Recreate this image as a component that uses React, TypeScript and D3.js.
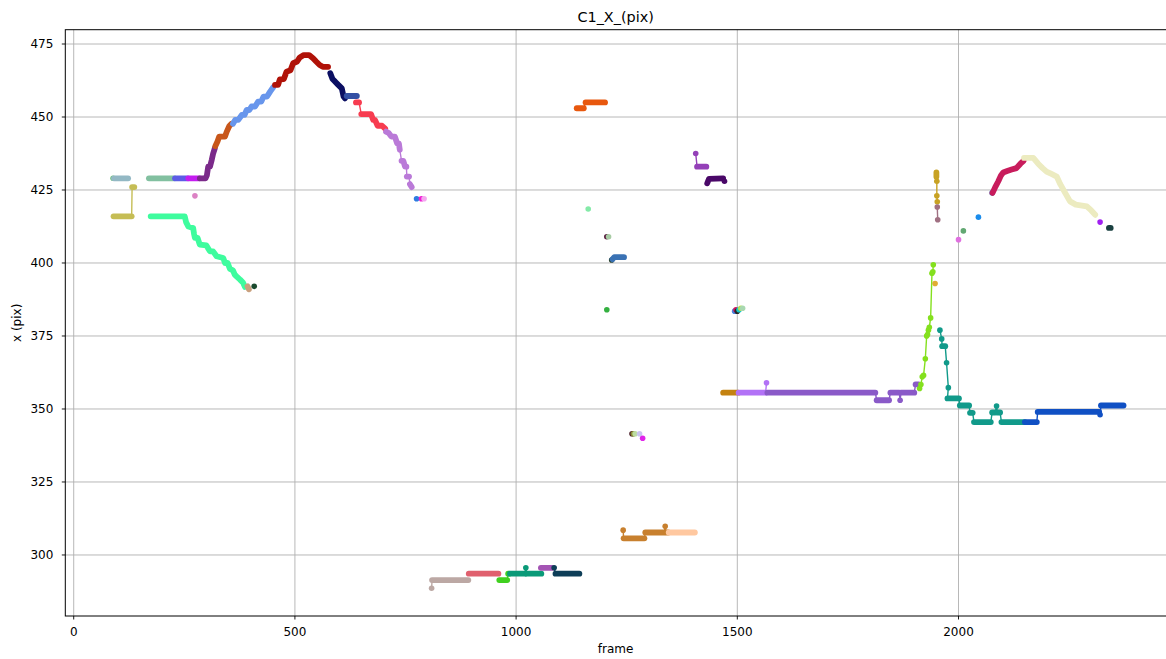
import * as d3 from 'd3';

type Pt = [number, number];
type Run = Pt[];

// axis ticks
const xTicks = [0, 500, 1000, 1500, 2000];
const yTicks = [300, 325, 350, 375, 400, 425, 450, 475];

// tracks: list of dense runs of [frame, x(pix)]; one-point runs are lone markers
const startDot: Run[] = [[[89, 429]]];
const greyBlue: Run[] = [[[91, 429], [123, 429]]];
const olive: Run[] = [[[90, 416], [131, 416]], [[132, 426], [137, 426]]];
const seaGreen: Run[] = [[[170, 429], [228, 429]]];
const royal: Run[] = [[[229, 429], [258, 429]]];
const violet: Run[] = [[[259, 429], [284, 429]]];
const plum: Run[] = [[[285, 429], [298, 429], [301, 430], [304, 433], [308, 433], [312, 435.3], [315, 437.4], [319, 439.3]]];
const rust: Run[] = [[[320, 440], [325, 441.6], [329, 443.3], [342, 443.3], [346, 445], [352, 447], [357, 447.7]]];
const cornflower: Run[] = [[
  [360, 447.7], [365, 449], [372, 449], [380, 450.7], [386, 450.7], [391, 452.4], [397, 452.4],
  [402, 453.6], [410, 453.6], [417, 455.3], [424, 455.3], [429, 457], [437, 457], [444, 458.7], [451, 460.2],
]];
const darkRed: Run[] = [[
  [455, 461], [462, 461], [466, 462.9], [475, 463], [481, 465.5], [490, 466], [496, 468.4], [505, 469],
  [511, 470.4], [520, 471.2], [532, 471.2], [541, 470.1], [548, 469], [556, 467.8], [563, 467.2], [575, 467.2],
]];
const navy: Run[] = [[[580, 465], [585, 463], [591, 462.1], [598, 461], [606, 459.8], [610, 457], [613, 456.4]]];
const steel: Run[] = [[[617, 457.2], [640, 457.2]]];
const coral: Run[] = [
  [[638, 455], [645, 455]],
  [[650, 451], [672, 451], [677, 449], [681, 449], [687, 447], [697, 447], [704, 446]],
];
const orchid: Run[] = [
  [[706, 445], [712, 444.5], [718, 443.3], [726, 443.3], [731, 441], [735, 441], [737, 438.8]],
  [[741, 435], [745, 435], [749, 433], [752, 433]],
  [[753, 429.6], [758, 429.6]],
  [[760, 427], [764, 426]],
];
const blueDot: Run[] = [[[775, 422]]];
const magDot: Run[] = [[[786, 422]]];
const pinkDot: Run[] = [[[792, 422]]];
const orchidDot: Run[] = [[[274, 423]]];
const spring: Run[] = [[
  [174, 416], [251, 416], [254, 414], [259, 412.5], [270, 412], [272, 410], [274, 408.6], [280, 408.6],
  [285, 406.3], [300, 406], [304, 405], [308, 404], [315, 404], [323, 402.3], [338, 401.7], [342, 400],
  [348, 400], [353, 398], [360, 397.5], [364, 396], [368, 395.4], [376, 394.3], [383, 393.2], [387, 391.8],
]];
const tan: Run[] = [[[393, 392], [396, 391]]];
const darkGreen: Run[] = [[[408, 392]]];

const orange: Run[] = [[[1137, 453], [1153, 453]], [[1157, 455], [1201, 455]]];
const mint: Run[] = [[[1163, 418.5]]];
const wine: Run[] = [[[1205, 409]]];
const sage: Run[] = [[[1209, 409]]];
const darkGreen2: Run[] = [[[1216, 401]]];
const steelBlue: Run[] = [[[1218, 401.3], [1222, 402], [1244, 402]]];
const green2: Run[] = [[[1205, 384]]];
const c1: Run[] = [[[1494, 383.5]]];
const c2: Run[] = [[[1497, 384]]];
const c3: Run[] = [[[1500, 383.5]]];
const c4: Run[] = [[[1504, 384]]];
const c5: Run[] = [[[1508, 384.5]]];
const c6: Run[] = [[[1512, 384.5]]];
const purple2: Run[] = [[[1406, 437.5]], [[1409, 433], [1430, 433]]];
const indigo: Run[] = [[[1432, 427.3], [1436, 428.8], [1468, 429]], [[1471, 428]]];
const k1: Run[] = [[[1262, 341.5]]];
const k2: Run[] = [[[1265, 341.5]]];
const k3: Run[] = [[[1269, 341.5]]];
const k4: Run[] = [[[1279, 341.5]]];
const k5: Run[] = [[[1286, 340]]];
const ochre: Run[] = [
  [[1242, 308.5]], [[1243, 305.7], [1290, 305.7]], [[1292, 307.7], [1335, 307.7]],
  [[1337, 309.8]], [[1339, 307.7], [1344, 307.7]],
];
const peach: Run[] = [[[1345, 307.7], [1404, 307.7]]];

const taupe: Run[] = [[[809, 288.6]], [[810, 291.4], [892, 291.4]]];
const rose: Run[] = [[[893, 293.6], [960, 293.6]]];
const lime2: Run[] = [[[962, 291.4], [980, 291.4]], [[982, 293.6], [984, 293.6]]];
const teal2: Run[] = [[[986, 293.6], [1020, 293.6]], [[1022, 295.6]], [[1024, 293.6], [1057, 293.6]]];
const mauve2: Run[] = [[[1056, 295.6], [1082, 295.6]]];
const darkTeal: Run[] = [[[1086, 295.6]], [[1089, 293.6], [1143, 293.6]]];

const amber: Run[] = [[[1468, 355.6], [1502, 355.6]]];
const lavender: Run[] = [[[1503, 355.6], [1564, 355.6]], [[1566, 359]]];
const medPurple: Run[] = [
  [[1568, 355.6], [1812, 355.6]], [[1815, 353], [1843, 353]], [[1846, 355.6], [1866, 355.6]],
  [[1868, 353]], [[1870, 355.6], [1900, 355.6]], [[1903, 358.4], [1910, 358.4]],
];
const lime: Run[] = [
  [[1912, 357]], [[1915, 358.4]], [[1918, 361]], [[1921, 361.5]], [[1925, 367.2]], [[1928, 375]],
  [[1930, 375.5]], [[1932, 377]], [[1934, 378]], [[1937, 381.2]], [[1940, 396.5]], [[1942, 397]], [[1943, 399.4]],
];
const goldenrod: Run[] = [[[1950, 431], [1950, 429.5]], [[1951, 428]], [[1951, 423]], [[1952, 421]]];
const amberDot: Run[] = [[[1947, 393]]];
const mauve3: Run[] = [[[1952, 419.2]], [[1953, 414.8]]];
const d1: Run[] = [[[2000, 408]]];
const d2: Run[] = [[[2011, 411]]];
const d3dot: Run[] = [[[2045, 415.7]]];
const d4: Run[] = [[[2076, 424]]];
const crimson: Run[] = [[
  [2077, 424], [2083, 426], [2090, 428], [2096, 430], [2101, 431], [2110, 431.5], [2120, 432],
  [2131, 432.5], [2140, 434], [2147, 435],
]];
const cream: Run[] = [[
  [2148, 436], [2169, 436], [2180, 434], [2190, 432.5], [2199, 431.3], [2210, 430.5], [2222, 429.6],
  [2230, 427], [2241, 424], [2252, 421.1], [2265, 420], [2290, 419.4], [2300, 418], [2309, 416.5],
]];
const d5: Run[] = [[[2320, 414]]];
const slate: Run[] = [[[2340, 412], [2344, 412]]];
const teal: Run[] = [
  [[1958, 377]], [[1962, 374]], [[1963, 371.5], [1970, 371.5]], [[1973, 365.8]], [[1977, 357.3]],
  [[1975, 353.6], [2001, 353.6]], [[2003, 351.2], [2024, 351.2]], [[2026, 348.7], [2032, 348.7]],
  [[2035, 345.5], [2073, 345.5]], [[2076, 348.8], [2083, 348.8]], [[2086, 351]],
  [[2088, 348.8], [2094, 348.8]], [[2097, 345.5], [2150, 345.5]],
];
const blue: Run[] = [
  [[2150, 345.5], [2177, 345.5]], [[2179, 349], [2318, 349]], [[2320, 348]], [[2322, 351.2], [2373, 351.2]],
];

const tracks: [Run[], string][] = [
  [startDot, '#6cc07a'], [greyBlue, '#93b8c4'], [olive, '#c5bd55'], [seaGreen, '#82c0a0'],
  [royal, '#5c5ce6'], [violet, '#c41cf0'], [plum, '#7b2a8a'], [rust, '#c8561a'],
  [cornflower, '#6896ec'], [darkRed, '#b01208'], [navy, '#0b0f62'], [steel, '#3450a4'],
  [coral, '#f73c50'], [orchid, '#ba7ad8'], [blueDot, '#2e7ce0'], [magDot, '#f01ed4'],
  [pinkDot, '#f4a6f0'], [orchidDot, '#dc82c4'], [spring, '#3efc9e'], [tan, '#c9a07e'],
  [darkGreen, '#1a4a2e'], [orange, '#e8580e'], [mint, '#84eaa8'], [wine, '#5a2040'],
  [sage, '#a8cca4'], [darkGreen2, '#28402a'], [steelBlue, '#3a72b4'], [green2, '#34b040'],
  [c1, '#4a80e0'], [c2, '#d0145c'], [c3, '#282828'], [c4, '#18c8c8'], [c5, '#b8e050'], [c6, '#a8d8b0'],
  [purple2, '#9440b8'], [indigo, '#4a0868'], [k1, '#4a1c28'], [k2, '#8a8c34'], [k3, '#bcdca0'],
  [k4, '#cac4f0'], [k5, '#e024ea'], [ochre, '#c8802e'], [peach, '#ffc8a0'],
  [taupe, '#bca8a4'], [rose, '#e0606e'], [lime2, '#40d020'], [teal2, '#0a9a78'],
  [mauve2, '#a454b4'], [darkTeal, '#0e3e58'], [amber, '#c48210'], [lavender, '#b272f6'],
  [medPurple, '#8a5ac8'], [lime, '#84e01e'], [goldenrod, '#c8a224'], [amberDot, '#e0ac34'],
  [mauve3, '#a07082'], [d1, '#e070e0'], [d2, '#62a872'], [d3dot, '#1a8cec'], [d4, '#4862a8'],
  [crimson, '#c81c5c'], [cream, '#ecebc0'], [d5, '#a020f0'], [slate, '#1a4040'],
  [teal, '#119a8a'], [blue, '#1050c4'],
];

const W = 1166;
const H = 659;
const left = 65.3;
const right = 1167;
const top = 29.7;
const bottom = 616;

export default function App() {
  const x = d3.scaleLinear().domain([-19, 2469]).range([left, 1166]);
  const y = d3.scaleLinear().domain([279.1, 479.9]).range([bottom, top]);
  const line = d3.line<Pt>().x((d) => x(d[0])).y((d) => y(d[1]));
  const font = 'DejaVu Sans, sans-serif';

  return (
    <svg
      width={W}
      height={H}
      style={{ position: 'absolute', left: 0, top: 0, background: '#fff' }}
      fontFamily={font}
    >
      <defs>
        <clipPath id="plot">
          <rect x={left} y={top} width={right - left} height={bottom - top} />
        </clipPath>
      </defs>

      {/* grid */}
      {xTicks.map((t) => (
        <line key={'gx' + t} x1={x(t)} x2={x(t)} y1={top} y2={bottom} stroke="#b0b0b0" strokeWidth={0.9} />
      ))}
      {yTicks.map((t) => (
        <line key={'gy' + t} x1={left} x2={right} y1={y(t)} y2={y(t)} stroke="#b0b0b0" strokeWidth={0.9} />
      ))}

      <g clipPath="url(#plot)">
        {tracks.map(([runs, color], i) => {
          const all = runs.flat();
          return (
            <g key={i}>
              {all.length > 1 && (
                <path d={line(all) || ''} fill="none" stroke={color} strokeWidth={1.4} />
              )}
              {runs.map((r, j) =>
                r.length > 1 ? (
                  <path
                    key={j}
                    d={line(r) || ''}
                    fill="none"
                    stroke={color}
                    strokeWidth={5.8}
                    strokeLinecap="round"
                    strokeLinejoin="round"
                  />
                ) : (
                  <circle key={j} cx={x(r[0][0])} cy={y(r[0][1])} r={2.8} fill={color} />
                )
              )}
            </g>
          );
        })}
      </g>

      {/* spines */}
      <rect x={left} y={top} width={right - left} height={bottom - top} fill="none" stroke="#000" strokeWidth={1} />

      {/* x axis */}
      {xTicks.map((t) => (
        <g key={'tx' + t}>
          <line x1={x(t)} x2={x(t)} y1={bottom} y2={bottom + 3.5} stroke="#000" strokeWidth={0.9} />
          <text x={x(t)} y={bottom + 20} textAnchor="middle" fontSize={12} fill="#000">
            {t}
          </text>
        </g>
      ))}
      {/* y axis */}
      {yTicks.map((t) => (
        <g key={'ty' + t}>
          <line x1={left - 3.5} x2={left} y1={y(t)} y2={y(t)} stroke="#000" strokeWidth={0.9} />
          <text x={left - 12} y={y(t)} dy="0.35em" textAnchor="end" fontSize={12} fill="#000">
            {t}
          </text>
        </g>
      ))}

      <text x={(left + 1166) / 2} y={22} textAnchor="middle" fontSize={14.4} fill="#000">
        C1_X_(pix)
      </text>
      <text x={(left + 1166) / 2} y={653} textAnchor="middle" fontSize={12} fill="#000">
        frame
      </text>
      <text
        transform={`translate(21,${(top + bottom) / 2}) rotate(-90)`}
        textAnchor="middle"
        fontSize={12}
        fill="#000"
      >
        x (pix)
      </text>
    </svg>
  );
}
